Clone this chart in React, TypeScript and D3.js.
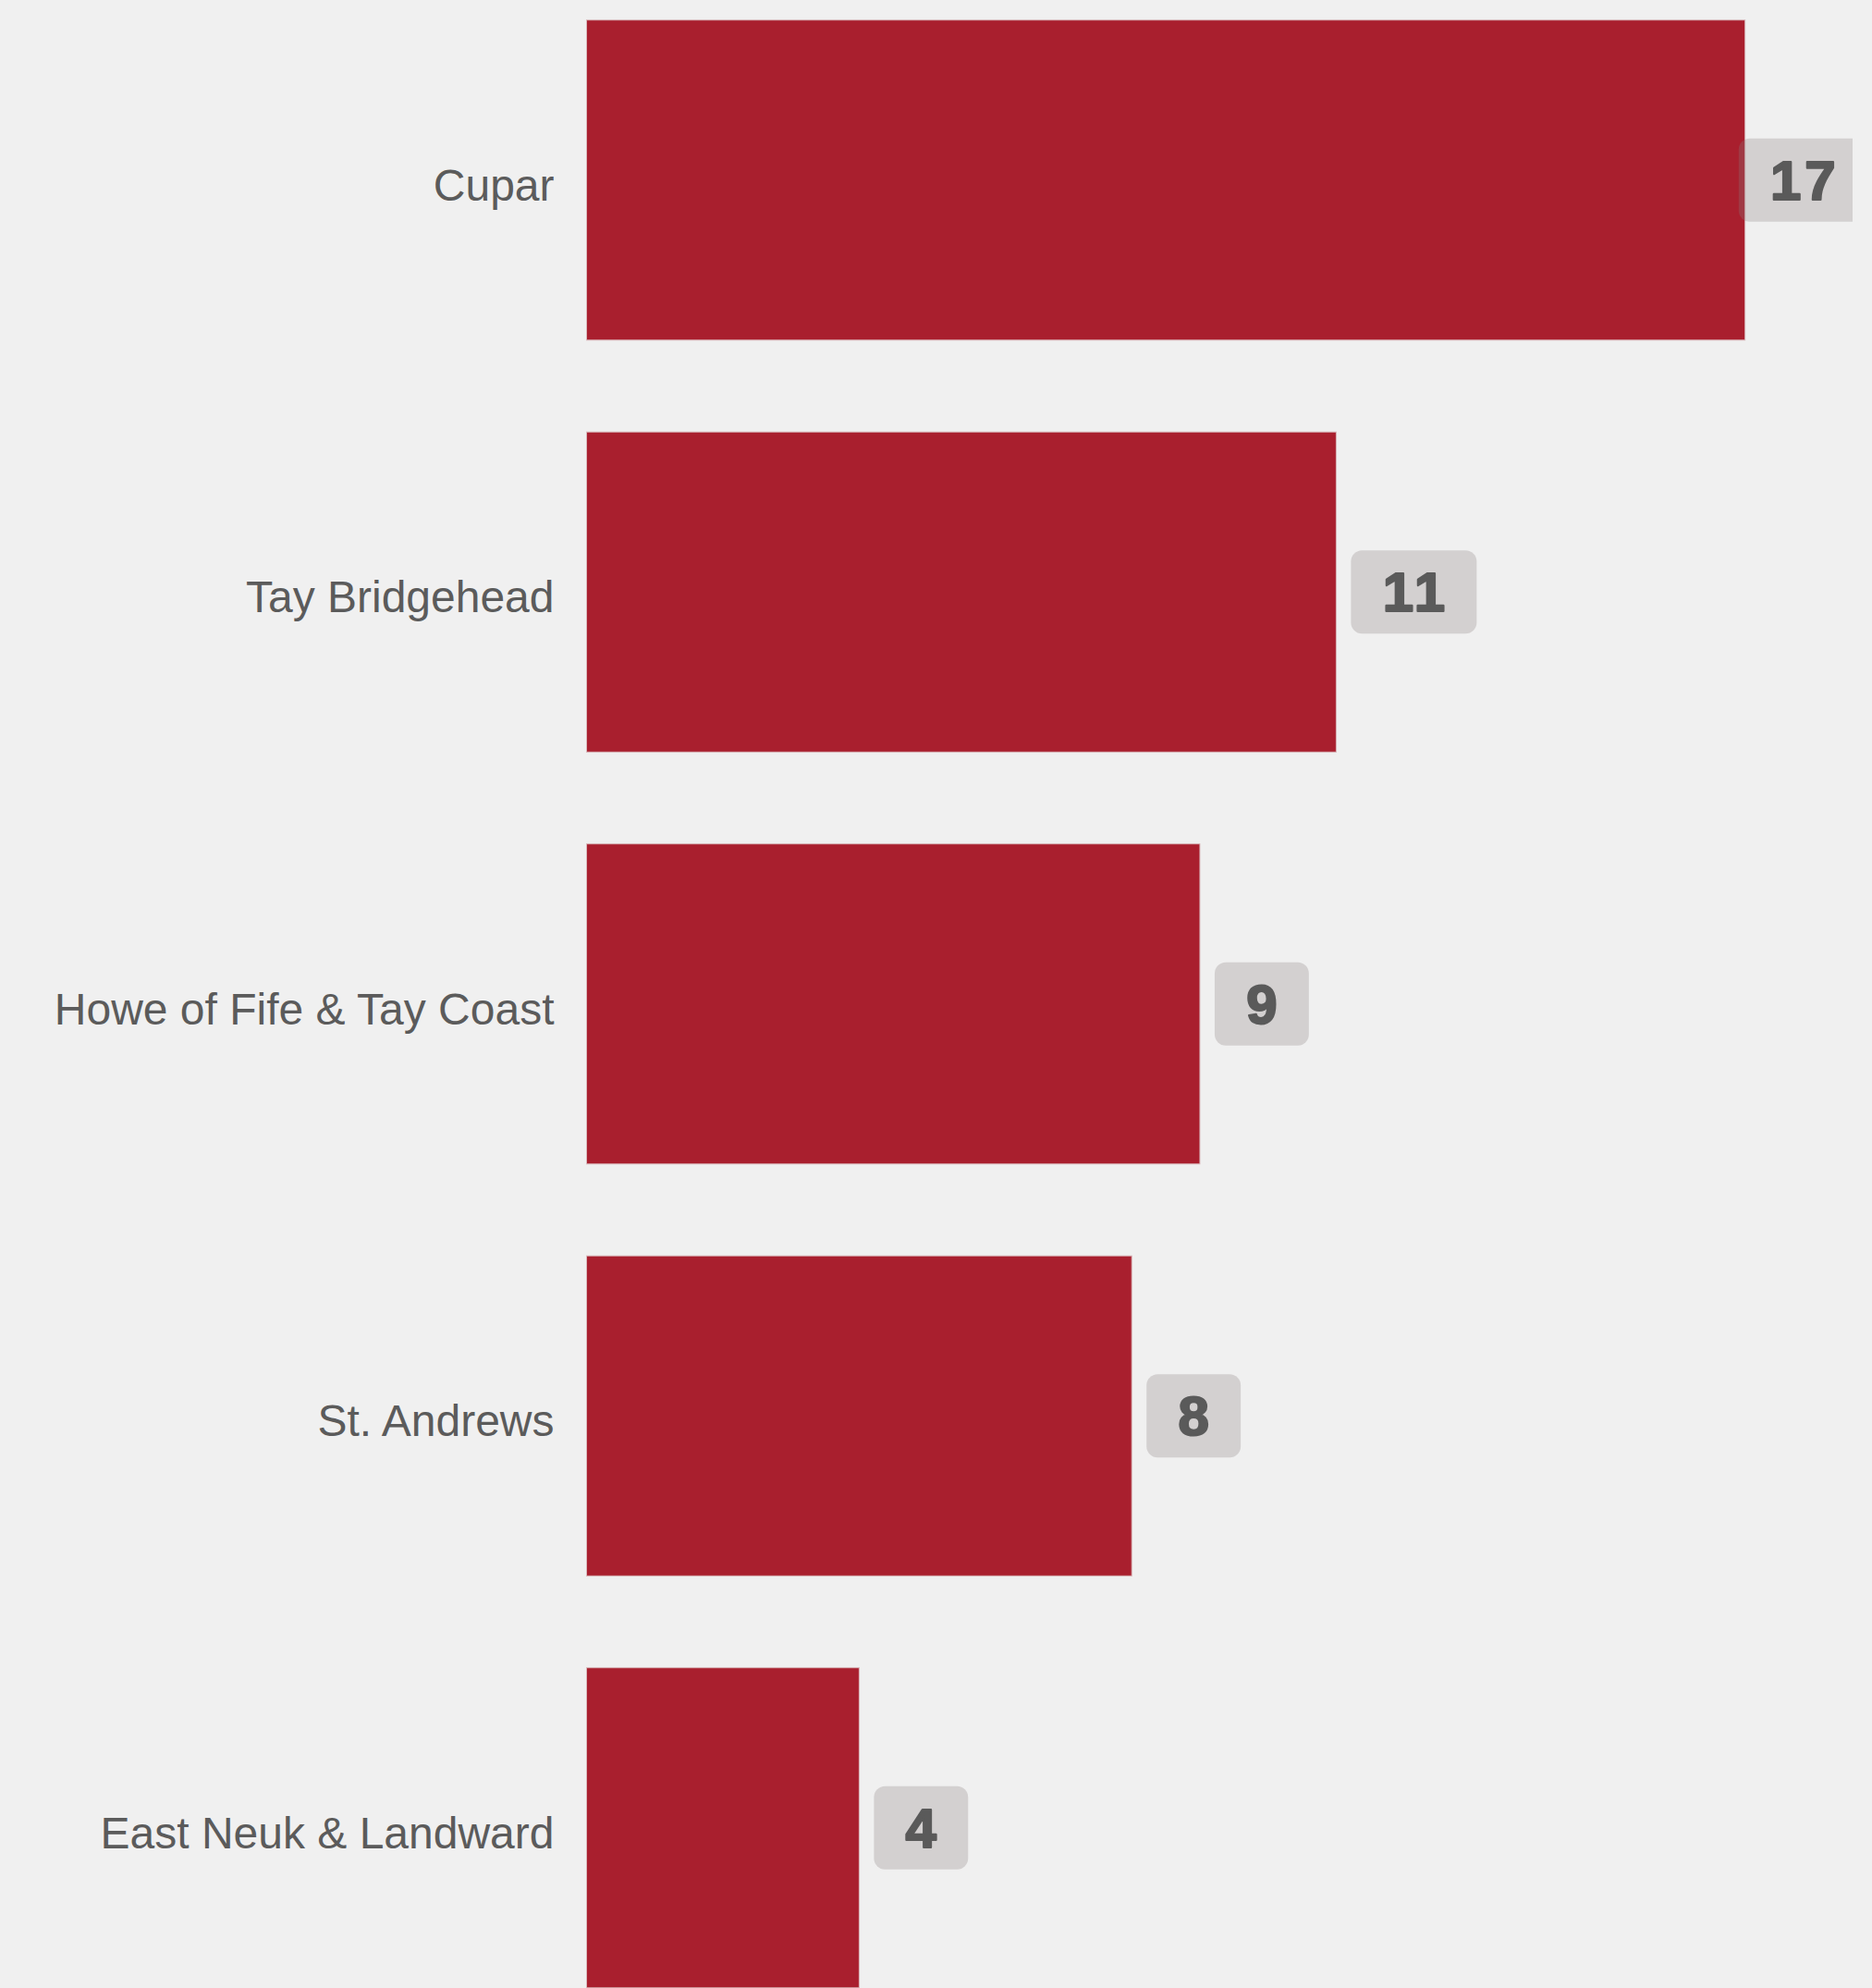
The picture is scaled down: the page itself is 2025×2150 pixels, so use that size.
import React, { useEffect, useRef } from "react";
import * as d3 from "d3";

const categories = ["Cupar", "Tay Bridgehead", "Howe of Fife & Tay Coast", "St. Andrews", "East Neuk & Landward"];
const values = [17, 11, 9, 8, 4];

const W = 2025;
const H = 2150;

export default function App() {
  const ref = useRef<SVGSVGElement | null>(null);

  useEffect(() => {
    const svg = d3.select(ref.current);
    svg.selectAll("*").remove();

    const y = d3
      .scaleBand<string>()
      .domain(categories)
      .range([-28, 2199.5])
      .paddingInner(0.223)
      .paddingOuter(0.1115);
    const x = d3.scaleLinear().domain([0, 17]).range([634.5, 1887.7]);

    svg.append("rect").attr("width", W).attr("height", H).attr("fill", "#f0f0f0");

    const defs = svg.append("defs");
    defs
      .append("clipPath")
      .attr("id", "plotclip")
      .append("rect")
      .attr("x", 0)
      .attr("y", 0)
      .attr("width", 2004)
      .attr("height", H);

    const data = categories.map((c, i) => ({ c, v: values[i] }));

    svg
      .append("g")
      .selectAll("rect")
      .data(data)
      .join("rect")
      .attr("x", x(0))
      .attr("y", (d) => y(d.c)!)
      .attr("width", (d) => x(d.v) - x(0))
      .attr("height", y.bandwidth())
      .attr("fill", "#a91f2e")
      .attr("stroke", "#d9b8bb")
      .attr("stroke-width", 1);

    svg
      .append("g")
      .selectAll("text")
      .data(data)
      .join("text")
      .attr("x", x(0) - 35)
      .attr("y", (d) => y(d.c)! + y.bandwidth() / 2 + 5)
      .attr("dy", "0.35em")
      .attr("text-anchor", "end")
      .attr("font-family", "'Liberation Sans', Arial, sans-serif")
      .attr("font-size", 48)
      .attr("fill", "#5b5b5b")
      .text((d) => d.c);

    const ls = 4;
    const lg = svg.append("g").attr("clip-path", "url(#plotclip)");
    data.forEach((d) => {
      const g = lg.append("g");
      const rect = g.append("rect");
      const t = g
        .append("text")
        .attr("text-anchor", "middle")
        .attr("dy", "0.35em")
        .attr("font-family", "'Liberation Sans', Arial, sans-serif")
        .attr("font-weight", "bold")
        .attr("font-size", 60)
        .attr("letter-spacing", ls)
        .attr("fill", "#5a5a5a")
        .attr("stroke", "#5a5a5a")
        .attr("stroke-width", 2.2)
        .attr("stroke-linejoin", "round")
        .text(String(d.v));
      const tw = (t.node() as SVGTextElement).getComputedTextLength();
      const bw = tw + 64.5;
      const bh = 90;
      const bx = Math.min(x(d.v) + 16, 2020 - bw);
      const cy = y(d.c)! + y.bandwidth() / 2;
      rect
        .attr("x", bx)
        .attr("y", cy - bh / 2)
        .attr("width", bw)
        .attr("height", bh)
        .attr("rx", 12)
        .attr("fill", "rgba(135,125,125,0.28)");
      t.attr("x", bx + bw / 2 + ls / 2).attr("y", cy);
    });
  }, []);

  return (
    <svg
      ref={ref}
      width={W}
      height={H}
      style={{ position: "absolute", left: 0, top: 0, display: "block" }}
    />
  );
}
